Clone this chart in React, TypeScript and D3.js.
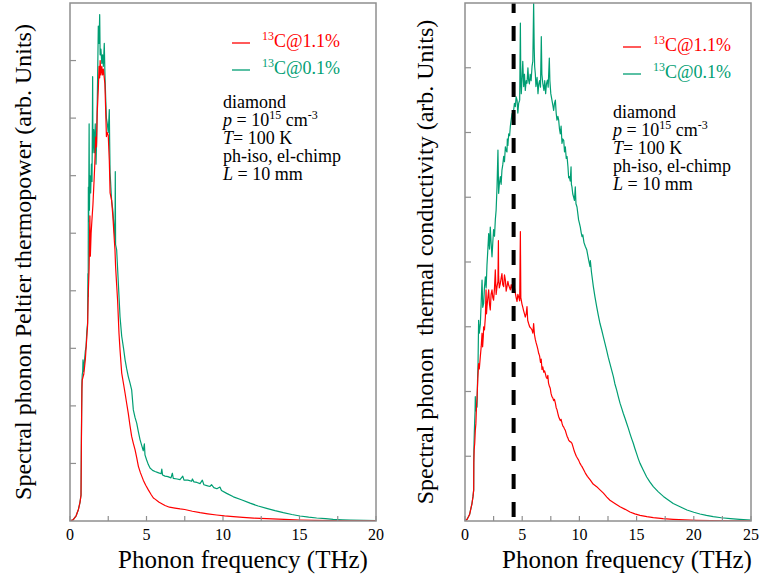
import React from "react";
import * as d3 from "d3";

type P = [number, number];

// ---- Left panel: Spectral phonon Peltier thermopower ----
const peltierGreen: P[] = [[0,0],[0.2,0.02],[0.4,0.09],[0.55,0.2],[0.65,0.32],[0.72,0.45],[0.74,1.3],[0.76,1.9],[0.78,2.4],[0.8,2.54],[0.83,2.6],[0.85,2.8],[0.88,2.6],[0.92,2.7],[1.0,2.95],[1.05,3.03],[1.1,3.3],[1.15,3.44],[1.17,4.3],[1.19,3.9],[1.2,5.8],[1.22,5.2],[1.25,6.9],[1.27,5.4],[1.3,6.0],[1.35,5.7],[1.4,6.2],[1.44,5.9],[1.48,7.72],[1.5,6.4],[1.55,6.8],[1.6,6.4],[1.65,6.9],[1.7,6.2],[1.74,6.6],[1.8,7.6],[1.85,8.6],[1.9,8.3],[1.94,8.8],[1.97,8.1],[2.02,8.2],[2.08,7.95],[2.13,8.1],[2.18,7.9],[2.24,8.3],[2.28,7.8],[2.33,7.37],[2.38,7.0],[2.44,6.9],[2.5,6.75],[2.57,7.15],[2.59,6.63],[2.62,6.05],[2.72,5.57],[2.8,5.4],[2.88,5.1],[2.94,4.89],[2.96,6.07],[2.98,4.8],[3.05,4.71],[3.09,4.5],[3.16,4.13],[3.27,3.55],[3.38,3.21],[3.5,3.0],[3.6,2.8],[3.7,2.65],[3.81,2.51],[3.92,2.4],[4.03,2.28],[4.14,1.93],[4.25,1.8],[4.36,1.7],[4.47,1.55],[4.58,1.41],[4.7,1.3],[4.79,1.22],[4.86,1.34],[4.9,1.15],[5.01,1.06],[5.12,0.98],[5.23,0.92],[5.4,0.88],[5.56,0.86],[5.75,0.84],[5.95,0.82],[6.0,0.9],[6.05,0.8],[6.21,0.78],[6.4,0.77],[6.6,0.75],[6.69,0.83],[6.75,0.74],[7.0,0.73],[7.19,0.72],[7.37,0.78],[7.45,0.71],[7.7,0.71],[7.95,0.69],[8.0,0.73],[8.1,0.68],[8.3,0.67],[8.5,0.65],[8.65,0.71],[8.75,0.63],[9.0,0.61],[9.15,0.6],[9.25,0.63],[9.4,0.58],[9.6,0.56],[9.8,0.59],[9.9,0.53],[10.24,0.48],[10.68,0.42],[11.2,0.37],[11.77,0.31],[12.3,0.26],[12.85,0.22],[13.4,0.18],[13.94,0.145],[14.5,0.113],[15.03,0.087],[15.6,0.067],[16.12,0.052],[16.7,0.04],[17.2,0.029],[17.8,0.021],[18.3,0.016],[19.2,0.01],[20,0.006]];

const peltierRed: P[] = [[0,0],[0.2,0.02],[0.4,0.09],[0.55,0.2],[0.65,0.32],[0.72,0.45],[0.74,1.2],[0.76,1.8],[0.78,2.3],[0.8,2.45],[0.85,2.5],[0.9,2.55],[1.0,2.8],[1.1,3.2],[1.15,3.4],[1.2,4.0],[1.25,4.4],[1.28,5.0],[1.3,5.3],[1.33,4.6],[1.38,5.0],[1.45,5.3],[1.5,5.5],[1.57,5.9],[1.62,6.2],[1.68,6.67],[1.73,6.5],[1.78,7.1],[1.85,7.5],[1.9,7.9],[1.94,7.7],[1.97,8.0],[2.02,7.75],[2.08,7.9],[2.13,7.75],[2.18,7.85],[2.24,7.7],[2.28,7.6],[2.33,7.15],[2.38,6.68],[2.44,6.75],[2.5,6.7],[2.57,6.26],[2.62,5.7],[2.72,5.57],[2.8,5.3],[2.9,4.87],[2.94,4.71],[2.98,4.42],[3.05,4.1],[3.11,3.84],[3.2,3.27],[3.27,2.97],[3.38,2.57],[3.5,2.38],[3.6,2.22],[3.7,2.05],[3.81,1.87],[3.92,1.66],[4.03,1.47],[4.14,1.35],[4.25,1.24],[4.36,1.1],[4.47,0.95],[4.6,0.84],[4.79,0.71],[4.95,0.62],[5.12,0.54],[5.3,0.46],[5.45,0.4],[5.56,0.38],[5.8,0.33],[6.0,0.3],[6.21,0.27],[6.5,0.24],[6.86,0.225],[7.2,0.21],[7.5,0.2],[8.0,0.17],[8.5,0.145],[9.0,0.125],[9.58,0.104],[10.1,0.088],[10.68,0.075],[11.3,0.062],[12.0,0.05],[12.85,0.04],[14.0,0.027],[15.03,0.017],[16.0,0.011],[17.2,0.006],[18.5,0.003],[20,0.001]];

// ---- Right panel: Spectral phonon thermal conductivity ----
const kappaGreen: P[] = [[0,0],[0.2,0.03],[0.4,0.1],[0.61,0.27],[0.7,0.38],[0.76,0.48],[0.77,1.0],[0.79,1.2],[0.82,1.4],[0.85,1.56],[0.88,1.7],[0.9,1.92],[0.95,1.7],[1.0,1.8],[1.05,1.76],[1.1,2.2],[1.14,2.43],[1.19,3.1],[1.25,2.9],[1.34,3.04],[1.42,3.4],[1.49,3.72],[1.55,3.3],[1.63,3.36],[1.7,3.6],[1.78,3.77],[1.85,3.6],[1.92,3.95],[2.0,4.2],[2.07,4.44],[2.14,4.2],[2.21,4.54],[2.28,4.3],[2.36,4.08],[2.43,4.3],[2.5,4.5],[2.58,4.4],[2.65,4.65],[2.72,4.8],[2.8,5.16],[2.88,5.73],[2.94,5.06],[3.0,5.2],[3.09,5.32],[3.16,5.2],[3.23,5.42],[3.3,5.5],[3.38,5.63],[3.45,5.55],[3.53,5.78],[3.6,5.72],[3.67,5.7],[3.7,5.9],[3.75,5.8],[3.82,5.98],[3.9,5.95],[3.96,6.09],[4.04,6.2],[4.11,6.29],[4.18,6.25],[4.25,6.34],[4.32,6.45],[4.4,6.4],[4.47,6.55],[4.55,6.5],[4.62,6.3],[4.69,6.45],[4.78,6.5],[4.84,7.69],[4.88,6.8],[4.92,6.6],[4.98,6.81],[5.05,7.1],[5.13,6.71],[5.2,6.9],[5.27,6.65],[5.35,6.8],[5.42,6.76],[5.5,7.0],[5.56,6.81],[5.63,6.75],[5.7,6.9],[5.78,6.8],[5.86,7.02],[5.93,7.1],[6.0,8.0],[6.05,7.3],[6.09,7.02],[6.15,6.9],[6.2,6.71],[6.3,6.85],[6.38,6.6],[6.45,6.75],[6.52,6.8],[6.6,6.7],[6.67,7.48],[6.72,6.9],[6.8,6.76],[6.9,6.65],[6.97,6.8],[7.05,6.6],[7.12,6.75],[7.2,6.81],[7.27,6.7],[7.37,7.15],[7.42,6.8],[7.5,6.6],[7.6,6.5],[7.68,6.42],[7.75,6.34],[7.82,6.45],[7.9,6.5],[7.97,6.3],[8.04,6.19],[8.12,6.25],[8.19,6.19],[8.26,6.05],[8.33,5.98],[8.4,6.1],[8.48,5.83],[8.55,5.9],[8.63,5.88],[8.7,5.7],[8.77,5.78],[8.85,5.6],[8.92,5.63],[9.0,5.47],[9.06,5.3],[9.12,5.32],[9.2,5.25],[9.27,5.47],[9.3,5.2],[9.35,5.16],[9.42,5.05],[9.5,5.0],[9.57,4.95],[9.64,5.16],[9.7,4.9],[9.79,4.85],[9.86,4.75],[9.93,4.65],[10.0,4.6],[10.08,4.54],[10.16,4.45],[10.23,4.39],[10.3,4.42],[10.4,4.3],[10.52,4.24],[10.64,4.19],[10.81,4.03],[10.93,3.93],[10.96,4.02],[11.05,3.85],[11.22,3.62],[11.36,3.46],[11.51,3.31],[11.65,3.18],[11.8,3.05],[11.95,2.95],[12.1,2.84],[12.24,2.74],[12.38,2.64],[12.52,2.53],[12.67,2.43],[12.82,2.33],[12.97,2.23],[13.1,2.12],[13.26,2.02],[13.4,1.92],[13.55,1.82],[13.7,1.74],[13.84,1.66],[14.0,1.58],[14.13,1.51],[14.28,1.43],[14.42,1.35],[14.55,1.28],[14.71,1.2],[14.85,1.12],[15.0,1.04],[15.15,0.96],[15.3,0.89],[15.6,0.78],[15.88,0.68],[16.17,0.6],[16.46,0.53],[16.9,0.45],[17.34,0.38],[17.8,0.32],[18.2,0.27],[18.8,0.22],[19.4,0.17],[20.0,0.135],[20.54,0.108],[21.1,0.086],[21.7,0.067],[22.4,0.05],[23.2,0.036],[24.0,0.025],[25,0.015]];

const kappaRed: P[] = [[0,0],[0.2,0.03],[0.4,0.1],[0.61,0.27],[0.7,0.38],[0.76,0.48],[0.77,0.9],[0.8,1.1],[0.85,1.2],[0.9,1.4],[0.95,1.5],[1.0,1.75],[1.05,1.89],[1.12,2.2],[1.19,2.43],[1.25,2.35],[1.34,2.54],[1.42,2.7],[1.49,2.9],[1.54,2.69],[1.6,2.85],[1.63,3.0],[1.7,2.95],[1.78,3.15],[1.84,3.57],[1.88,3.2],[1.92,3.31],[2.0,3.45],[2.07,3.57],[2.14,3.35],[2.21,3.26],[2.28,3.5],[2.36,3.57],[2.43,3.45],[2.5,3.41],[2.58,3.6],[2.65,3.88],[2.72,3.5],[2.8,3.62],[2.88,3.7],[2.92,4.33],[2.94,3.77],[3.0,3.6],[3.09,3.67],[3.16,3.75],[3.23,3.82],[3.3,3.65],[3.38,3.62],[3.45,3.8],[3.53,3.72],[3.6,3.55],[3.67,3.62],[3.75,3.7],[3.82,3.64],[3.9,3.6],[3.96,3.57],[4.04,3.65],[4.11,3.6],[4.18,3.55],[4.25,3.57],[4.32,3.6],[4.4,3.52],[4.47,3.45],[4.55,3.39],[4.62,3.5],[4.69,3.46],[4.78,3.4],[4.84,4.47],[4.88,3.45],[4.92,3.41],[4.98,3.35],[5.04,3.31],[5.12,3.25],[5.2,3.2],[5.27,3.15],[5.35,3.2],[5.42,3.31],[5.48,3.1],[5.56,3.05],[5.65,3.0],[5.75,2.98],[5.86,2.95],[5.93,2.9],[6.0,3.05],[6.07,2.88],[6.15,2.8],[6.22,2.75],[6.3,2.7],[6.37,2.65],[6.44,2.59],[6.52,2.55],[6.6,2.45],[6.66,2.5],[6.73,2.34],[6.8,2.38],[6.88,2.3],[6.95,2.32],[7.02,2.28],[7.1,2.22],[7.17,2.2],[7.24,2.25],[7.3,2.13],[7.38,2.08],[7.45,2.05],[7.52,1.97],[7.6,1.92],[7.68,1.9],[7.75,1.86],[7.82,1.88],[7.9,1.82],[7.97,1.75],[8.04,1.72],[8.12,1.66],[8.19,1.61],[8.26,1.58],[8.33,1.55],[8.4,1.57],[8.48,1.51],[8.55,1.47],[8.63,1.45],[8.7,1.42],[8.77,1.4],[8.85,1.35],[8.92,1.31],[9.0,1.28],[9.06,1.25],[9.15,1.23],[9.25,1.22],[9.35,1.2],[9.45,1.14],[9.55,1.08],[9.64,1.04],[9.73,1.0],[9.83,0.97],[9.93,0.94],[10.05,0.89],[10.15,0.86],[10.23,0.84],[10.35,0.8],[10.52,0.74],[10.7,0.69],[10.96,0.63],[11.2,0.57],[11.51,0.53],[11.8,0.48],[12.1,0.43],[12.4,0.37],[12.67,0.32],[13.1,0.27],[13.55,0.22],[14.0,0.18],[14.42,0.14],[14.85,0.11],[15.3,0.088],[15.9,0.068],[16.46,0.052],[17.3,0.036],[18.2,0.026],[19.2,0.017],[20.25,0.01],[21.5,0.006],[23,0.003],[25,0.001]];

const dashedFreq = 4.25;

const leftXTicks = [0, 2.5, 5, 7.5, 10, 12.5, 15, 17.5, 20];
const leftXLabels = [0, 5, 10, 15, 20];
const leftYTicks = [1, 2, 3, 4, 5, 6, 7, 8];
const rightXTicks = [0, 2.5, 5, 7.5, 10, 12.5, 15, 17.5, 20, 22.5, 25];
const rightXLabels = [0, 5, 10, 15, 20, 25];
const rightYTicks = [1, 2, 3, 4, 5, 6, 7];

const legendLabels = ["C@1.1%", "C@0.1%"];
const infoLines = ["diamond", "p", "T", "ph-iso, el-chimp", "L"];

const RED = "#ff0000";
const GREEN = "#009e73";
const AXIS = "#8f8f8f";
const FONT = '"Liberation Serif", "Times New Roman", Times, "DejaVu Serif", serif';
const TXT: React.CSSProperties = { fontFamily: FONT };

interface PanelProps {
  id: string;
  x0: number; x1: number; top: number; bottom: number;
  xMax: number; yMax: number;
  xTicks: number[]; xLabels: number[]; yTicks: number[];
  green: P[]; red: P[];
  yLabel: string; yLabelX: number; xLabelX: number;
  legend: { x: number; y: number };
  info: { x: number; y: number };
  dashed?: number;
}

function Panel(p: PanelProps) {
  const x = d3.scaleLinear().domain([0, p.xMax]).range([p.x0, p.x1]);
  const y = d3.scaleLinear().domain([0, p.yMax]).range([p.bottom, p.top]);
  const line = d3.line<P>().x(d => x(d[0])).y(d => y(d[1]));
  const midY = (p.top + p.bottom) / 2;
  return (
    <g>
      <defs>
        <clipPath id={p.id}>
          <rect x={p.x0} y={p.top} width={p.x1 - p.x0} height={p.bottom - p.top} />
        </clipPath>
      </defs>
      <g clipPath={`url(#${p.id})`}>
        <path d={line(p.green) || ""} fill="none" stroke={GREEN} strokeWidth={1.2} strokeLinejoin="round" />
        <path d={line(p.red) || ""} fill="none" stroke={RED} strokeWidth={1.2} strokeLinejoin="round" />
        {p.dashed !== undefined && (
          <line x1={x(p.dashed)} x2={x(p.dashed)} y1={p.top} y2={p.bottom}
            stroke="#000" strokeWidth={4} strokeDasharray="15 13" strokeDashoffset={5} />
        )}
      </g>
      <rect x={p.x0} y={p.top} width={p.x1 - p.x0} height={p.bottom - p.top}
        fill="none" stroke={AXIS} strokeWidth={1.5} />
      {p.xTicks.map(t => (
        <line key={"xt" + t} x1={x(t)} x2={x(t)} y1={p.bottom} y2={p.bottom - 5} stroke={AXIS} strokeWidth={1.2} />
      ))}
      {p.yTicks.map(t => (
        <line key={"yt" + t} x1={p.x0} x2={p.x0 + 6} y1={y(t)} y2={y(t)} stroke={AXIS} strokeWidth={1.2} />
      ))}
      {p.xLabels.map(t => (
        <text key={"xl" + t} x={x(t)} y={p.bottom + 19} textAnchor="middle" style={TXT} fontSize={16} fill="#000">{t}</text>
      ))}
      <text x={p.xLabelX} y={p.bottom + 47} textAnchor="middle" style={TXT} fontSize={25} fill="#000">Phonon frequency (THz)</text>
      <text transform={`translate(${p.yLabelX},${midY}) rotate(-90)`} textAnchor="middle" style={{ ...TXT, whiteSpace: "pre" }} fontSize={24} fill="#000">{p.yLabel}</text>
      {legendLabels.map((lab, i) => {
        const ly = p.legend.y + i * 27;
        const col = i === 0 ? RED : GREEN;
        return (
          <g key={lab}>
            <line x1={p.legend.x} x2={p.legend.x + 18} y1={ly - 4} y2={ly - 4} stroke={col} strokeWidth={1.3} />
            <text x={p.legend.x + 30} y={ly} style={TXT} fontSize={18} fill={col}>
              <tspan fontSize={12} dy={-7}>13</tspan>
              <tspan dy={7}>{lab}</tspan>
            </text>
          </g>
        );
      })}
      <g style={TXT} fontSize={18} fill="#000">
        <text x={p.info.x} y={p.info.y}>{infoLines[0]}</text>
        <text x={p.info.x} y={p.info.y + 18}>
          <tspan fontStyle="italic">{infoLines[1]}</tspan> = 10<tspan fontSize={12} dy={-7}>15</tspan><tspan dy={7}> cm</tspan><tspan fontSize={12} dy={-7}>-3</tspan>
        </text>
        <text x={p.info.x} y={p.info.y + 36}>
          <tspan fontStyle="italic">{infoLines[2]}</tspan>= 100 K
        </text>
        <text x={p.info.x} y={p.info.y + 54}>{infoLines[3]}</text>
        <text x={p.info.x} y={p.info.y + 72}>
          <tspan fontStyle="italic">{infoLines[4]}</tspan> = 10 mm
        </text>
      </g>
    </g>
  );
}

export default function App() {
  return (
    <svg width={762} height={581} style={{ position: "absolute", left: 0, top: 0, background: "#fff" }}>
      <rect x={0} y={0} width={762} height={581} fill="#fff" />
      <Panel id="clipL" x0={70} x1={376} top={3} bottom={521} xMax={20} yMax={9}
        xTicks={leftXTicks} xLabels={leftXLabels} yTicks={leftYTicks}
        green={peltierGreen} red={peltierRed}
        yLabel="Spectral phonon Peltier thermopower (arb. Units)" yLabelX={31} xLabelX={243}
        legend={{ x: 232, y: 47 }} info={{ x: 223, y: 108 }} />
      <Panel id="clipR" x0={465} x1={751} top={3} bottom={521} xMax={25} yMax={8}
        xTicks={rightXTicks} xLabels={rightXLabels} yTicks={rightYTicks}
        green={kappaGreen} red={kappaRed}
        yLabel="Spectral phonon  thermal conductivity (arb. Units)" yLabelX={433} xLabelX={627}
        legend={{ x: 623, y: 51 }} info={{ x: 613, y: 118 }} dashed={dashedFreq} />
    </svg>
  );
}
